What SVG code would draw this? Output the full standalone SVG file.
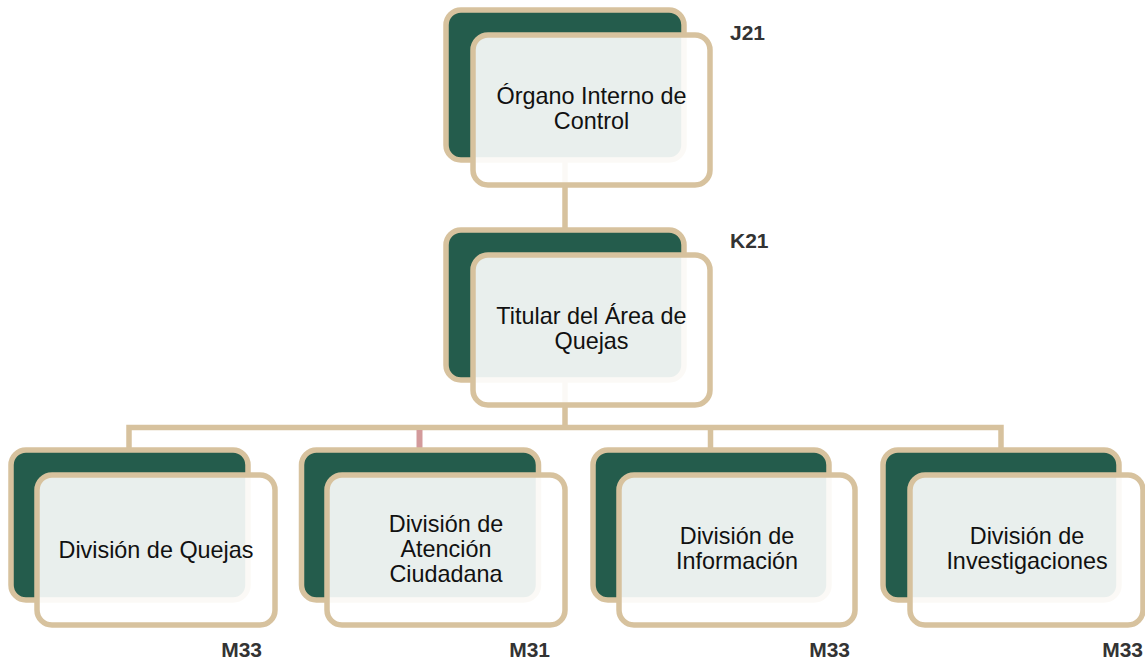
<svg xmlns="http://www.w3.org/2000/svg" width="1145" height="663" viewBox="0 0 1145 663">
<style>
.back{fill:#245C4C;stroke:#D7C29E;stroke-width:5.5}
.front{fill:#FFFFFF;fill-opacity:0.9;stroke:#D7C29E;stroke-width:5.5}
.conn{fill:none;stroke:#D7C29E;stroke-width:5.5}
.t{font-family:"Liberation Sans",Arial,sans-serif;font-size:23.4px;fill:#111111;text-anchor:middle}
.lbl{font-family:"Liberation Sans",Arial,sans-serif;font-size:21px;font-weight:bold;fill:#333333}
</style>
<rect width="1145" height="663" fill="#FFFFFF"/>
<g id="connectors">
<path class="conn" d="M565 160 V230"/>
<path class="conn" d="M565 380 V427.5"/>
<path class="conn" d="M129 450 V427.5 H1001 V450"/>
<path class="conn" d="M710.5 427.5 V450"/>
<path d="M419.5 430 V448" fill="none" stroke="#D39A9B" stroke-width="6"/>
</g>
<g id="node-organo">
<rect class="back" x="446" y="10" width="238" height="150" rx="15"/>
<rect class="front" x="473" y="35" width="237" height="150" rx="15"/>
<text class="t" x="591.5" y="103.5">Órgano Interno de</text>
<text class="t" x="591.5" y="128.5">Control</text>
<text class="lbl" x="730" y="40">J21</text>
</g>
<g id="node-titular">
<rect class="back" x="446" y="230" width="238" height="150" rx="15"/>
<rect class="front" x="473" y="255" width="237" height="150" rx="15"/>
<text class="t" x="591.5" y="323.5">Titular del Área de</text>
<text class="t" x="591.5" y="348.5">Quejas</text>
<text class="lbl" x="730" y="248">K21</text>
</g>
<g id="node-quejas">
<rect class="back" x="11" y="450" width="237" height="150" rx="15"/>
<rect class="front" x="37" y="475" width="238" height="150" rx="15"/>
<text class="t" x="156" y="558">División de Quejas</text>
<text class="lbl" x="262" y="657" text-anchor="end">M33</text>
</g>
<g id="node-atencion">
<rect class="back" x="301.5" y="450" width="237" height="150" rx="15"/>
<rect class="front" x="327" y="475" width="238" height="150" rx="15"/>
<text class="t" x="446" y="532">División de</text>
<text class="t" x="446" y="557">Atención</text>
<text class="t" x="446" y="582">Ciudadana</text>
<text class="lbl" x="550" y="657" text-anchor="end">M31</text>
</g>
<g id="node-informacion">
<rect class="back" x="593" y="450" width="236" height="150" rx="15"/>
<rect class="front" x="619" y="475" width="236" height="150" rx="15"/>
<text class="t" x="737" y="544">División de</text>
<text class="t" x="737" y="569">Información</text>
<text class="lbl" x="850" y="657" text-anchor="end">M33</text>
</g>
<g id="node-investigaciones">
<rect class="back" x="883" y="450" width="236" height="150" rx="15"/>
<rect class="front" x="910" y="475" width="233" height="150" rx="15"/>
<text class="t" x="1027" y="544">División de</text>
<text class="t" x="1027" y="569">Investigaciones</text>
<text class="lbl" x="1143" y="657" text-anchor="end">M33</text>
</g>
</svg>
